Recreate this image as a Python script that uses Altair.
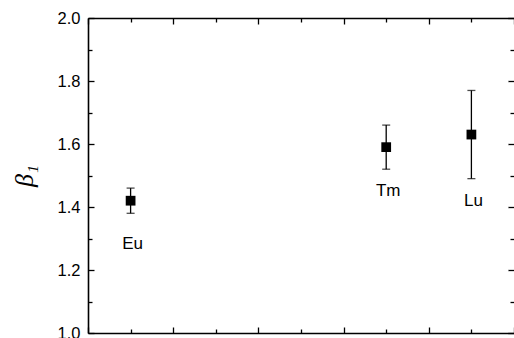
import altair as alt
import pandas as pd

# Lanthanide ions placed by atomic number, with fitted beta_1 and its uncertainty
elements = ["Eu", "Tm", "Lu"]
atomic_number = [63, 69, 71]
beta1 = [1.42, 1.59, 1.63]
beta1_err = [0.04, 0.07, 0.14]
label_y = [1.283, 1.452, 1.419]

# Tick positions for the framed axes
x_major = [62, 64, 66, 68, 70, 72]
x_minor = [63, 65, 67, 69, 71]
y_major = [1.0, 1.2, 1.4, 1.6, 1.8, 2.0]
y_minor = [1.1, 1.3, 1.5, 1.7, 1.9]

W, H = 426, 315

df = pd.DataFrame({
    "element": elements,
    "z": atomic_number,
    "beta": beta1,
    "err": beta1_err,
    "label_y": label_y,
})
df["lo"] = df["beta"] - df["err"]
df["hi"] = df["beta"] + df["err"]

xs = alt.Scale(domain=[62, 72], nice=False, zero=False)
ys = alt.Scale(domain=[1.0, 2.0], nice=False, zero=False)

FRAME = 1.6


def tick_axis(orient, values, size, offset, domain=False):
    return alt.Axis(
        orient=orient, values=values, tickSize=size, offset=offset,
        labels=False, title=None, domain=domain, domainWidth=FRAME,
        domainColor="black", tickColor="black", tickWidth=1.3, grid=False,
    )


def guide(xaxis, yaxis):
    return alt.Chart(df).mark_point(opacity=0).encode(
        x=alt.X("z:Q", scale=xs, axis=xaxis),
        y=alt.Y("beta:Q", scale=ys, axis=yaxis),
    )


y_label_axis = alt.Axis(
    orient="left", values=y_major, format=".1f", tickSize=0, ticks=False,
    labelFont="Liberation Sans", labelFontSize=16.5, labelColor="black",
    labelPadding=8, domain=True, domainColor="black", domainWidth=FRAME,
    grid=False, title="β₁", titleFont="Liberation Serif", titleFontSize=26,
    titleFontStyle="italic", titleFontWeight="normal", titleColor="black",
    titlePadding=20,
)

guides = [
    guide(tick_axis("bottom", x_major, 6, -H, domain=True), y_label_axis),
    guide(tick_axis("bottom", x_minor, 4, -H), tick_axis("right", y_major, 6, -W)),
    guide(tick_axis("top", x_major, 6, -H, domain=True), tick_axis("right", y_minor, 4, -W)),
    guide(tick_axis("top", x_minor, 4, -H), tick_axis("left", y_major, 6, -W)),
    guide(None, tick_axis("left", y_minor, 4, -W)),
]

bars = alt.Chart(df).mark_rule(color="black", strokeWidth=1.3).encode(
    x=alt.X("z:Q", scale=xs, axis=None),
    y=alt.Y("lo:Q", scale=ys, axis=None),
    y2="hi:Q",
)
caps_lo = alt.Chart(df).mark_tick(
    orient="horizontal", color="black", size=8, thickness=1.3
).encode(
    x=alt.X("z:Q", scale=xs, axis=None),
    y=alt.Y("lo:Q", scale=ys, axis=None),
)
caps_hi = alt.Chart(df).mark_tick(
    orient="horizontal", color="black", size=8, thickness=1.3
).encode(
    x=alt.X("z:Q", scale=xs, axis=None),
    y=alt.Y("hi:Q", scale=ys, axis=None),
)
points = alt.Chart(df).mark_square(size=95, color="black", opacity=1).encode(
    x=alt.X("z:Q", scale=xs, axis=None),
    y=alt.Y("beta:Q", scale=ys, axis=None),
)
labels = alt.Chart(df).mark_text(
    font="Liberation Sans", fontSize=17, color="black",
    align="center", baseline="middle", dx=2,
).encode(
    x=alt.X("z:Q", scale=xs, axis=None),
    y=alt.Y("label_y:Q", scale=ys, axis=None),
    text="element:N",
)

chart = alt.layer(*guides, bars, caps_lo, caps_hi, points, labels).resolve_axis(
    x="independent", y="independent"
).properties(
    width=W, height=H,
    autosize=alt.AutoSizeParams(type="none"),
    padding={"left": 88, "top": 18, "right": 0, "bottom": 5},
    background="white",
).configure_view(stroke=None)

chart.save("out.html", embed_options={"renderer": "svg", "actions": False})
